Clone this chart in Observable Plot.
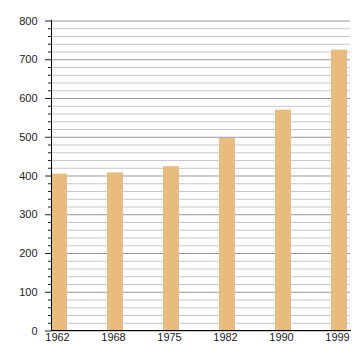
<!DOCTYPE html>
<html><head><meta charset="utf-8">
<script src="https://cdn.jsdelivr.net/npm/d3@7"></script>
<script src="https://cdn.jsdelivr.net/npm/@observablehq/plot@0.6"></script>
<style>body{margin:0;background:#fff} svg{display:block}</style>
</head><body><div id="chart"></div>
<script>
const years = ["1962","1968","1975","1982","1990","1999"];
const values = [405, 408, 424, 497, 570, 725];
const majorTicks = [0,100,200,300,400,500,600,700,800];
const minorTicks = [20,40,60,80,120,140,160,180,220,240,260,280,320,340,360,380,420,440,460,480,520,540,560,580,620,640,660,680,720,740,760,780];

const data = years.map((y, i) => ({year: y, value: values[i]}));

const chart = Plot.plot({
  width: 360,
  height: 360,
  marginLeft: 51,
  marginRight: 10,
  marginTop: 20,
  marginBottom: 30,
  style: {fontFamily: "Liberation Sans, Arial, sans-serif", fontSize: "11px", color: "#222", background: "#fff"},
  x: {domain: years, range: [51, 350], paddingInner: 0.717, paddingOuter: 0, align: 0, label: null},
  y: {domain: [0, 800], range: [330.5, 20.5], label: null},
  marks: [
    Plot.gridY(minorTicks, {stroke: "#c8c8c8", strokeOpacity: 1, strokeWidth: 1}),
    Plot.gridY(majorTicks, {stroke: "#999", strokeOpacity: 1, strokeWidth: 1}),
    Plot.barY(data, {x: "year", y: "value", fill: "#e8bb80"}),
    Plot.axisY(majorTicks, {tickSize: 6, tickPadding: 8, stroke: "#222", fill: "#222", fontSize: 11, label: null}),
    Plot.axisY(minorTicks, {tickSize: 3, tickFormat: () => "", stroke: "#222", label: null}),
    Plot.axisX({tickSize: 0, tickPadding: 3, dx: -2, fill: "#222", fontSize: 11, label: null}),
    Plot.frame({anchor: "left", stroke: "#000"}),
    Plot.frame({anchor: "bottom", stroke: "#000"})
  ]
});
document.getElementById("chart").append(chart);
</script>
</body></html>
